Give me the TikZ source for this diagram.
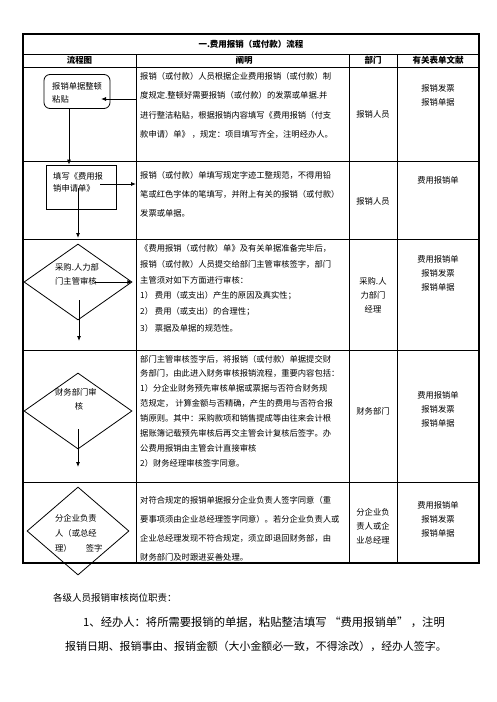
\documentclass[tikz,border=0pt]{standalone}
\usepackage{fontspec}
\setmainfont{Noto Sans CJK SC}
\usetikzlibrary{arrows.meta,shapes.geometric}
\begin{document}
\begin{tikzpicture}[x=1pt,y=-1pt,
  grid/.style={line width=0.8pt},
  frame/.style={line width=1.1pt},
  tx/.style={anchor=west,inner sep=0pt,font=\fontsize{8.3}{10}\selectfont},
  ct/.style={anchor=center,inner sep=0pt,align=center,font=\fontsize{8.3}{14}\selectfont},
  hd/.style={anchor=center,inner sep=0pt,font=\fontsize{8.5}{10}\selectfont\bfseries},
  rbox/.style={draw,line width=0.8pt,rounded corners=6pt,inner sep=0pt},
  sbox/.style={draw,line width=0.8pt,inner sep=0pt},
  dia/.style={draw,diamond,line width=0.8pt,inner sep=0pt},
  arr/.style={-{Latex[length=5pt,width=4pt]},line width=0.8pt}]
\useasboundingbox (0,0) rectangle (496,702);
% ---------- table grid ----------
\draw[frame] (23,34) rectangle (479,563);
\foreach \yy in {54,67,161,239,350,482}{\draw[grid] (23,\yy) -- (479,\yy);}
\foreach \xx in {136,349,397}{\draw[grid] (\xx,54) -- (\xx,563);}
% ---------- title & header ----------
\node[hd] (title) at (251,44) {一.费用报销（或付款）流程};
\node[hd] (h1) at (79.5,60.5) {流程图};
\node[hd] (h2) at (244,60.5) {阐明};
\node[hd] (h3) at (373,60.5) {部门};
\node[hd] (h4) at (438,60.5) {有关表单文献};
% ---------- row 1 ----------
\node[rbox,minimum width=66pt,minimum height=34pt] (b1) at (77,91.5) {};
\node[tx] (b1a) at (52,86) {报销单据整顿};
\node[tx] (b1b) at (52,99) {粘贴};
\node[tx] (r1a) at (140,76) {报销（或付款）人员根据企业费用报销（或付款）制};
\node[tx] (r1b) at (140,95.5) {度规定.整顿好需要报销（或付款）的发票或单据.并};
\node[tx] (r1c) at (140,115) {进行整洁粘贴，根据报销内容填写《费用报销（付支};
\node[tx] (r1d) at (140,134.5) {款申请）单》 ，规定：项目填写齐全，注明经办人。};
\node[ct] (r1dep) at (373,114) {报销人员};
\node[ct] (r1doc) at (438,95) {报销发票\\报销单据};
\coordinate (a1s) at (136,99);
\coordinate (a1e) at (101,99);
\draw[arr] (a1s) -- (a1e);
% ---------- row 2 ----------
\node[sbox,minimum width=70pt,minimum height=44pt] (b2) at (81,187) {};
\node[tx] (b2a) at (53,176) {填写《费用报};
\node[tx] (b2b) at (53,188) {销申请单》};
\coordinate (v1s) at (69,108.5);
\draw[arr] (v1s) -- (v1s |- b2.north);
\node[tx] (r2a) at (140,175) {报销（或付款）单填写规定字迹工整规范，不得用铅};
\node[tx] (r2b) at (140,194) {笔或红色字体的笔填写，并附上有关的报销（或付款）};
\node[tx] (r2c) at (140,213) {发票或单据。};
\node[ct] (r2dep) at (373,201) {报销人员};
\node[ct] (r2doc) at (438,180) {费用报销单};
\coordinate (a2s) at (100,184);
\coordinate (a2e) at (136,184);
\draw[arr] (a2s) -- (a2e);
\coordinate (v2s) at (78,188);
\coordinate (v2e) at (78,238);
\draw[arr] (v2s) -- (v2e);
% ---------- row 3 ----------
\node[dia,minimum width=108pt,minimum height=76pt] (d1) at (78,282) {};
\node[tx] (d1a) at (55,267) {采购.人力部};
\node[tx] (d1b) at (55,281) {门主管审核};
\coordinate (a3s) at (95,282);
\draw[arr] (a3s) -- (d1.east);
\coordinate (v3s) at (79,300);
\coordinate (v3e) at (79,341);
\draw[arr] (v3s) -- (v3e);
\node[tx] (r3a) at (140,248) {《费用报销（或付款）单》及有关单据准备完毕后，};
\node[tx] (r3b) at (140,264) {报销（或付款）人员提交给部门主管审核签字，部门};
\node[tx] (r3c) at (140,280) {主管须对如下方面进行审核：};
\node[tx] (r3d) at (140,296) {1） 费用（或支出）产生的原因及真实性；};
\node[tx] (r3e) at (140,312) {2） 费用（或支出）的合理性；};
\node[tx] (r3f) at (140,328) {3） 票据及单据的规范性。};
\node[ct] (r3dep) at (373,295) {采购.人\\力部门\\经理};
\node[ct] (r3doc) at (438,273) {费用报销单\\报销发票\\报销单据};
% ---------- row 4 ----------
\node[dia,minimum width=108pt,minimum height=76pt] (d2) at (78,411) {};
\node[tx] (d2a) at (55,392) {财务部门审};
\node[ct] (d2b) at (79,406) {核};
\coordinate (v4s) at (78,429);
\coordinate (v4e) at (78,467);
\draw[arr] (v4s) -- (v4e);
\node[tx] (r4a) at (140,359) {部门主管审核签字后，将报销（或付款）单据提交财};
\node[tx] (r4b) at (140,373.9) {务部门，由此进入财务审核报销流程，重要内容包括：};
\node[tx] (r4c) at (140,388.7) { 1）分企业财务预先审核单据或票据与否符合财务规};
\node[tx] (r4d) at (140,403.6) {范规定， 计算金额与否精确，产生的费用与否符合报};
\node[tx] (r4e) at (140,418.4) {销原则。其中：采购款项和销售提成等由往来会计根};
\node[tx] (r4f) at (140,433.3) {据账簿记载预先审核后再交主管会计复核后签字。办};
\node[tx] (r4g) at (140,448.2) {公费用报销由主管会计直接审核};
\node[tx] (r4h) at (140,463) {2）财务经理审核签字同意。};
\node[ct] (r4dep) at (373,411) {财务部门};
\node[ct] (r4doc) at (438,409) {费用报销单\\报销发票\\报销单据};
% ---------- row 5 ----------
\node[dia,minimum width=102pt,minimum height=88pt] (d3) at (78,531) {};
\node[tx] (d3a) at (55,518) {分企业负责};
\node[tx] (d3b) at (55,533) {人（或总经};
\node[tx] (d3c) at (55,548) {理）\hspace{14pt}签字};
\node[tx] (r5a) at (140,500) {对符合规定的报销单据报分企业负责人签字同意（重};
\node[tx] (r5b) at (140,519) {要事项须由企业总经理签字同意）。若分企业负责人或};
\node[tx] (r5c) at (140,538) {企业总经理发现不符合规定，须立即退回财务部，由};
\node[tx] (r5d) at (140,557) {财务部门及时跟进妥善处理。};
\node[ct] (r5dep) at (373,526) {分企业负\\责人或企\\业总经理};
\node[ct] (r5doc) at (438,519) {费用报销单\\报销发票\\报销单据};
% ---------- text below ----------
\node[anchor=west,inner sep=0pt,font=\fontsize{9.5}{11}\selectfont] (p1) at (53,598) {各级人员报销审核岗位职责：};
\node[anchor=west,inner sep=0pt,font=\fontsize{11.3}{13}\selectfont] (p2) at (83,622) {1、经办人：将所需要报销的单据，粘贴整洁填写 “费用报销单” ，注明};
\node[anchor=west,inner sep=0pt,font=\fontsize{10.9}{13}\selectfont] (p3) at (65,646) {报销日期、报销事由、报销金额（大小金额必一致，不得涂改），经办人签字。};
\end{tikzpicture}
\end{document}
